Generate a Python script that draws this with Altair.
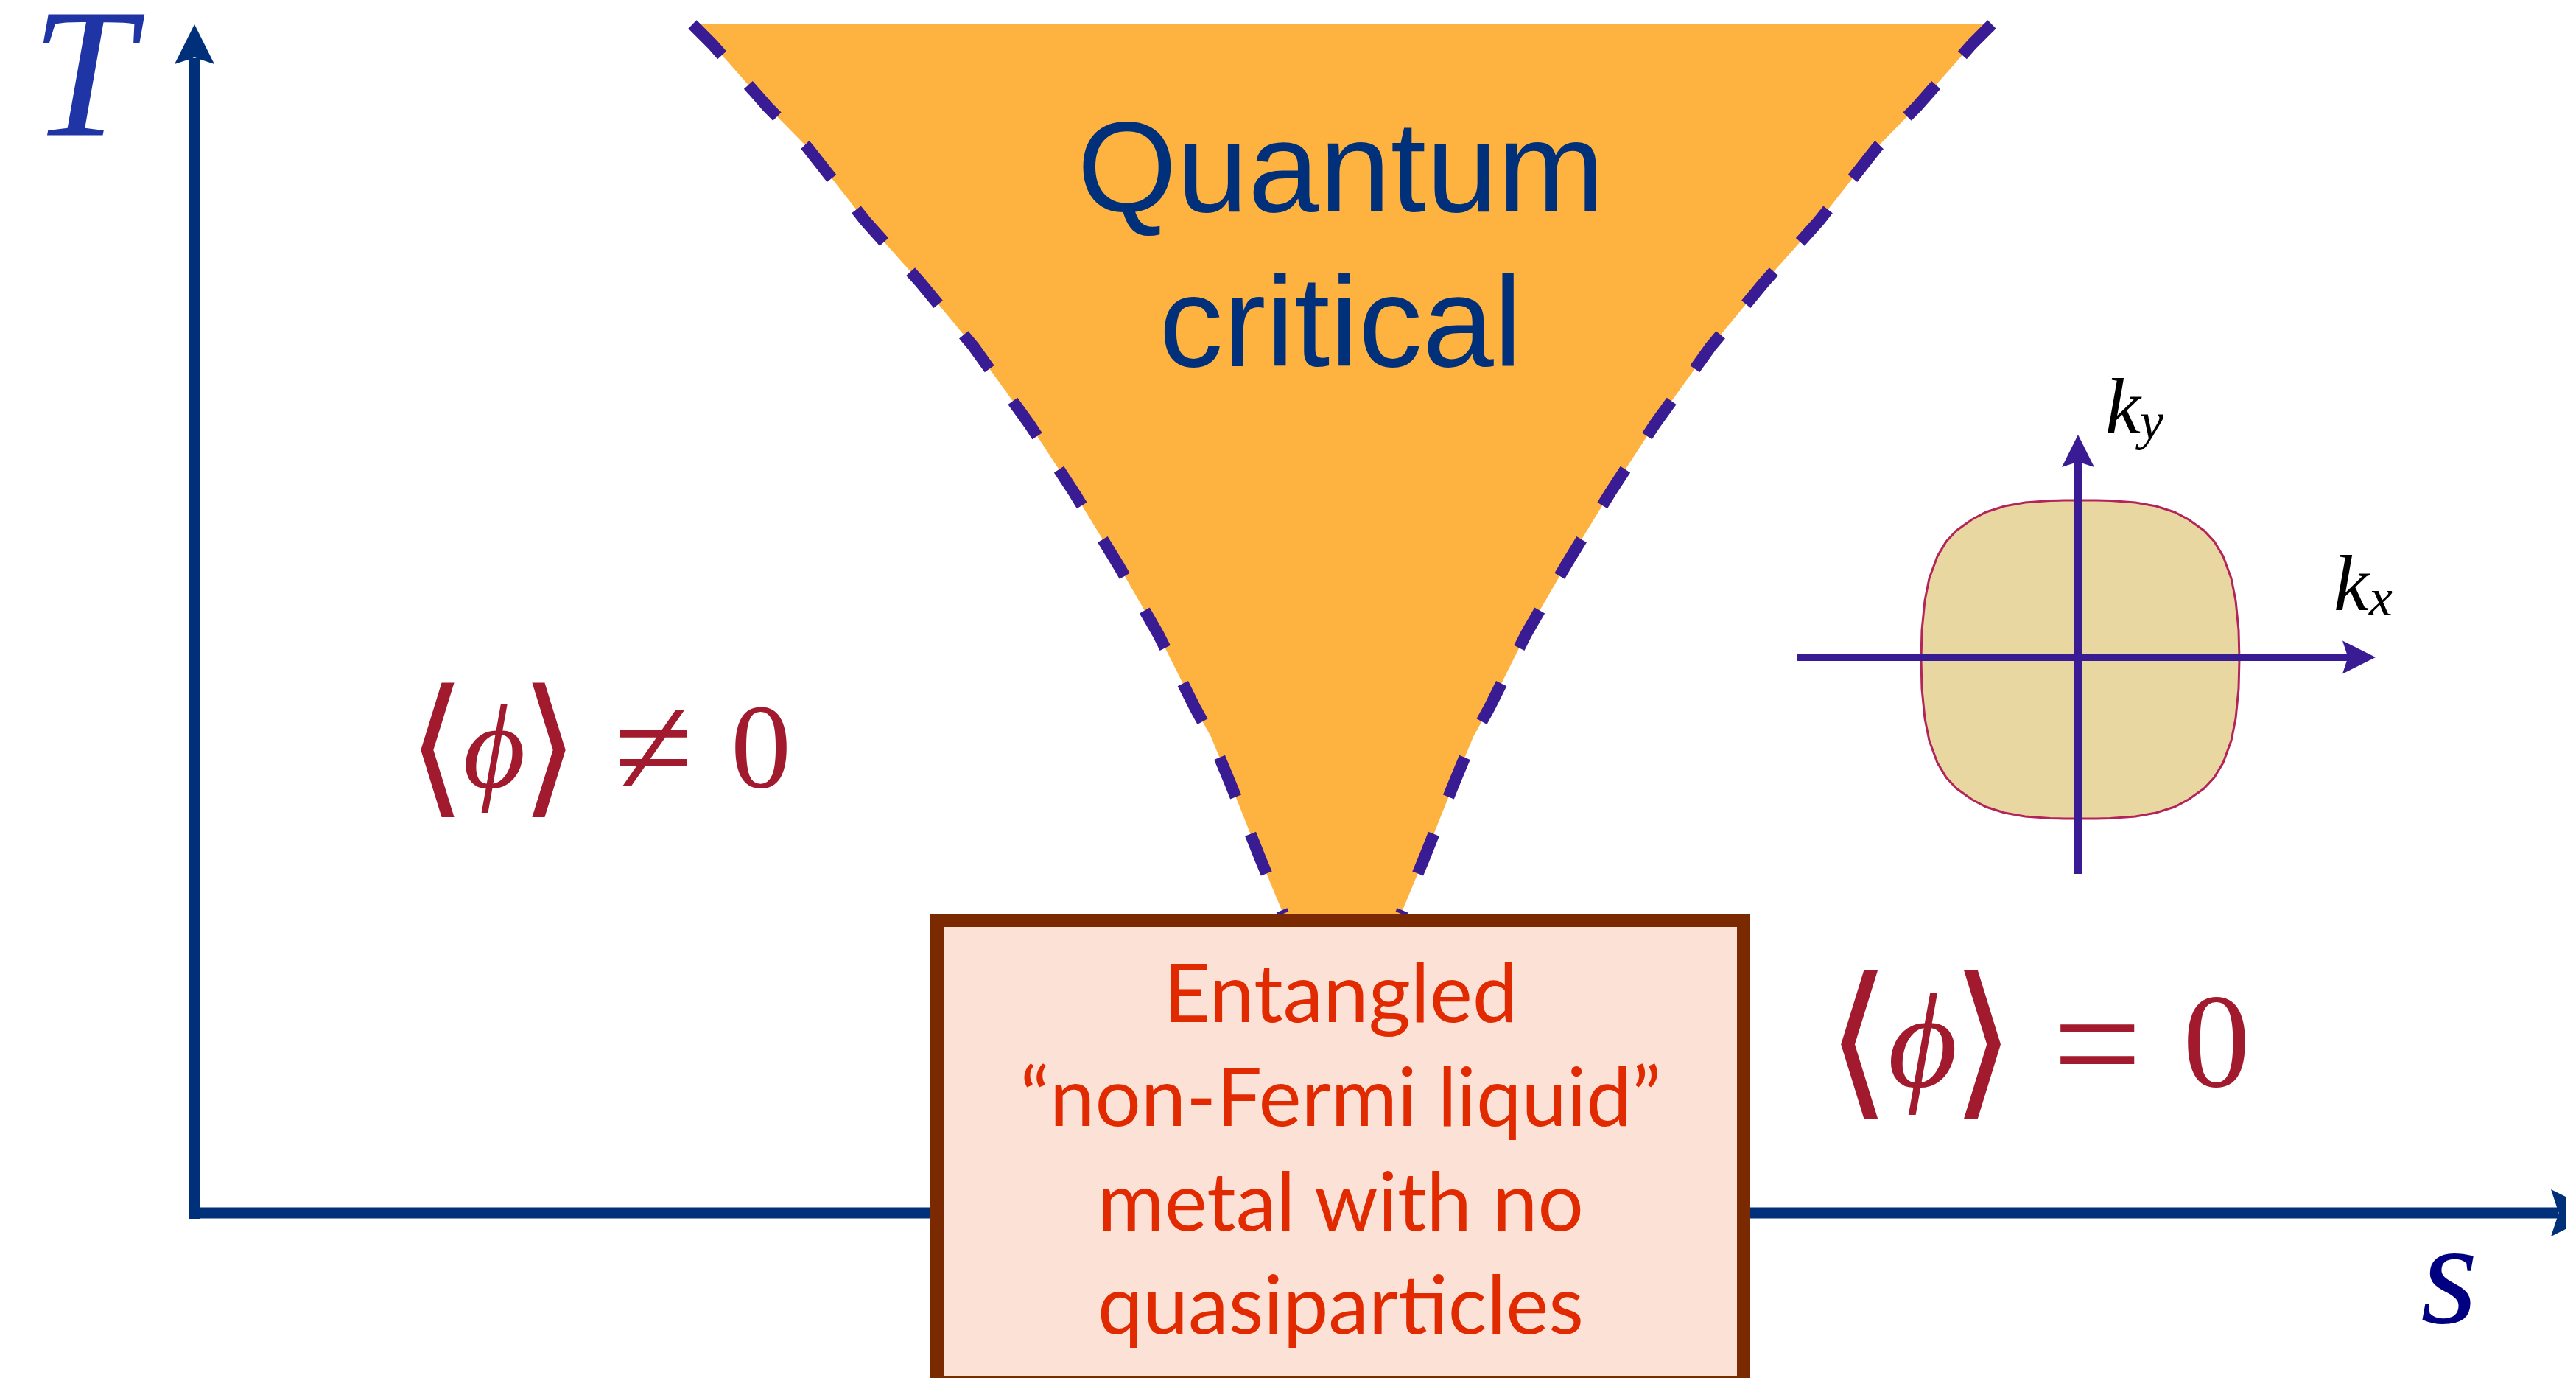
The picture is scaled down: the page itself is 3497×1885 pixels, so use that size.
import altair as alt
import pandas as pd

# ---------------- canvas: data coordinates = reference pixel coordinates ----------------
W, H = 3476, 1862
OX, OY = 8, 8

# ---------------- values ----------------
# quantum-critical fan: vertical position (px from top) and half-width around its centre
funnel_y = [33, 60, 145, 200, 299, 383, 471, 503, 575, 670, 765, 860, 960, 1000, 1065, 1168, 1240]
funnel_hw = [882, 855, 780, 726, 648, 573, 500, 477, 425, 363, 305, 250, 200, 178, 151, 110, 80]
funnel_cx = 1822

# Fermi surface (rounded square) : offset from centre and half-width at that offset
fermi_dy = [0, 40, 80, 110, 140, 160, 175, 190, 200, 208, 213, 215.5, 215.9, 216]
fermi_hw = [216, 215, 211, 205, 194, 182, 168, 147, 128, 103, 75, 41, 22, 0]
fermi_cx, fermi_cy = 2824, 895

# phase-diagram axes: shaft start, arrow tip, head size
axes_T = dict(x=264, y0=1654, tip=33, head=54)
axes_s = dict(y=1646, x0=257, tip=3527, head=64)
axes_kx = dict(y=892, x0=2440, tip=3225, head=45)
axes_ky = dict(x=2821, y0=1186, tip=590, head=44)

box = dict(x=1272, x2=2367, y=1249, y2=1876)
box_lines = ["Entangled", "\u201cnon-Fermi liquid\u201d", "metal with no", "quasiparticles"]
box_line_y = [1387, 1528, 1670, 1810]
box_cx = 1820

qc_lines = ["Quantum", "critical"]
qc_line_y = [287, 497]
qc_cx = 1820

# ---------------- colours ----------------
ORANGE = "#feb341"
DASH = "#391b94"
AXIS = "#00307a"
INSET = "#391b94"
MATH_RED = "#a11a2e"
BOX_FILL = "#fce1d6"
BOX_EDGE = "#7b2900"
BOX_TEXT = "#e12a00"

xs = alt.Scale(domain=[OX, OX + W], nice=False, zero=False)
ys = alt.Scale(domain=[OY, OY + H], nice=False, zero=False, reverse=True)


def X(f):
    return alt.X(f, type="quantitative", scale=xs, axis=None)


def Y(f):
    return alt.Y(f, type="quantitative", scale=ys, axis=None)


# ---------------- fan ----------------
fan = pd.DataFrame({
    "y": funnel_y,
    "xl": [funnel_cx - h for h in funnel_hw],
    "xr": [funnel_cx + h for h in funnel_hw],
})
fan_area = alt.Chart(fan).mark_area(orient="horizontal", color=ORANGE, opacity=1, clip=True).encode(
    y=Y("y"), x=X("xl"), x2="xr")

edges = pd.concat([
    pd.DataFrame({"side": "L", "y": funnel_y, "x": fan["xl"]}),
    pd.DataFrame({"side": "R", "y": funnel_y, "x": fan["xr"]}),
])
fan_edges = alt.Chart(edges).mark_line(color=DASH, strokeWidth=16, strokeDash=[58, 54], clip=True).encode(
    x=X("x"), y=Y("y"), detail="side:N", order="y:Q")

# ---------------- Fermi surface inset ----------------
dy_full = [-d for d in fermi_dy[::-1]] + fermi_dy[1:]
hw_full = fermi_hw[::-1] + fermi_hw[1:]
fermi = pd.DataFrame({
    "y": [fermi_cy + d for d in dy_full],
    "xl": [fermi_cx - h for h in hw_full],
    "xr": [fermi_cx + h for h in hw_full],
})
fermi_layer = alt.Chart(fermi).mark_area(orient="horizontal", fill="#e8d7a0", stroke="#b3255a",
                                         strokeWidth=3, opacity=1).encode(y=Y("y"), x=X("xl"), x2="xr")

# ---------------- axes with arrows ----------------
UP = "M0,-1L1,1L0,0.67L-1,1Z"
RIGHT = "M1,0L-1,-1L-0.67,0L-1,1Z"

rules = pd.DataFrame([
    dict(x=axes_T["x"], x2=axes_T["x"], y=axes_T["y0"], y2=axes_T["tip"] + axes_T["head"] * 0.85, c=AXIS, w=14),
    dict(x=axes_s["x0"], x2=axes_s["tip"] - axes_s["head"] * 0.85, y=axes_s["y"], y2=axes_s["y"], c=AXIS, w=15),
    dict(x=axes_kx["x0"], x2=axes_kx["tip"] - axes_kx["head"] * 0.7, y=axes_kx["y"], y2=axes_kx["y"], c=INSET, w=10),
    dict(x=axes_ky["x"], x2=axes_ky["x"], y=axes_ky["y0"], y2=axes_ky["tip"] + axes_ky["head"] * 0.7, c=INSET, w=10),
])
rule_layer = alt.Chart(rules).mark_rule(clip=True, strokeCap="butt").encode(
    x=X("x"), x2="x2", y=Y("y"), y2="y2",
    color=alt.Color("c:N", scale=None), strokeWidth=alt.StrokeWidth("w:Q", scale=None))

heads_up = pd.DataFrame([
    dict(x=axes_T["x"], y=axes_T["tip"] + axes_T["head"] / 2, s=axes_T["head"] ** 2, c=AXIS),
    dict(x=axes_ky["x"], y=axes_ky["tip"] + axes_ky["head"] / 2, s=axes_ky["head"] ** 2, c=INSET),
])
heads_right = pd.DataFrame([
    dict(x=axes_s["tip"] - axes_s["head"] / 2, y=axes_s["y"], s=axes_s["head"] ** 2, c=AXIS),
    dict(x=axes_kx["tip"] - axes_kx["head"] / 2, y=axes_kx["y"], s=axes_kx["head"] ** 2, c=INSET),
])
head_up = alt.Chart(heads_up).mark_point(shape=UP, filled=True, opacity=1, strokeWidth=0, clip=True).encode(
    x=X("x"), y=Y("y"), size=alt.Size("s:Q", scale=None), color=alt.Color("c:N", scale=None))
head_right = alt.Chart(heads_right).mark_point(shape=RIGHT, filled=True, opacity=1, strokeWidth=0, clip=True).encode(
    x=X("x"), y=Y("y"), size=alt.Size("s:Q", scale=None), color=alt.Color("c:N", scale=None))

# ---------------- box ----------------
box_df = pd.DataFrame([box])
box_layer = alt.Chart(box_df).mark_rect(fill=BOX_FILL, stroke=BOX_EDGE, strokeWidth=18, clip=True).encode(
    x=X("x"), x2="x2", y=Y("y"), y2="y2")

box_txt = pd.DataFrame({"t": box_lines, "x": box_cx, "y": box_line_y})
box_text = alt.Chart(box_txt).mark_text(font="Lato", fontSize=110, color=BOX_TEXT, align="center",
                                        baseline="alphabetic").encode(x=X("x"), y=Y("y"), text="t:N")

qc_txt = pd.DataFrame({"t": qc_lines, "x": qc_cx, "y": qc_line_y})
qc_text = alt.Chart(qc_txt).mark_text(font="Liberation Sans", fontSize=174, color=AXIS, align="center",
                                      baseline="alphabetic").encode(x=X("x"), y=Y("y"), text="t:N")

# ---------------- italic serif labels ----------------
italic = pd.DataFrame([
    dict(t="T", x=112, y=183, s=250, c="#1f35a5"),
    dict(t="s", x=3325, y=1795, s=200, c="#000080"),
    dict(t="\u03d5", x=671, y=1068, s=164, c=MATH_RED),
    dict(t="\u03d5", x=2610, y=1474, s=183, c=MATH_RED),
    dict(t="k", x=2882, y=588, s=108, c="#000000"),
    dict(t="y", x=2921, y=596, s=72, c="#000000"),
    dict(t="k", x=3192, y=828, s=108, c="#000000"),
    dict(t="x", x=3232, y=835, s=72, c="#000000"),
])
italic_layer = alt.Chart(italic).mark_text(font="Liberation Serif", fontStyle="italic", align="center",
                                           baseline="alphabetic").encode(
    x=X("x"), y=Y("y"), text="t:N", size=alt.Size("s:Q", scale=None), color=alt.Color("c:N", scale=None))

upright = pd.DataFrame([
    dict(t="\u2260", x=887, y=1080, s=195),
    dict(t="0", x=1033, y=1068, s=164),
    dict(t="=", x=2847, y=1488, s=215),
    dict(t="0", x=3009, y=1474, s=183),
])
upright_layer = alt.Chart(upright).mark_text(font="Liberation Serif", color=MATH_RED, align="center",
                                             baseline="alphabetic").encode(
    x=X("x"), y=Y("y"), text="t:N", size=alt.Size("s:Q", scale=None))

brackets = pd.DataFrame([
    dict(t="\u27e8", x=593, y=1082, s=205),
    dict(t="\u27e9", x=746, y=1082, s=205),
    dict(t="\u27e8", x=2523, y=1488, s=226),
    dict(t="\u27e9", x=2692, y=1488, s=226),
])
bracket_layer = alt.Chart(brackets).mark_text(font="DejaVu Sans ExtraLight, DejaVu Sans", color=MATH_RED,
                                              align="center", baseline="alphabetic").encode(
    x=X("x"), y=Y("y"), text="t:N", size=alt.Size("s:Q", scale=None))

chart = alt.layer(
    fan_area, fan_edges, fermi_layer, rule_layer, head_up, head_right,
    box_layer, box_text, qc_text,
    italic_layer, upright_layer, bracket_layer,
).properties(
    width=W, height=H, padding=0, background="white",
    autosize=alt.AutoSizeParams(type="none"),
).configure_view(stroke=None, strokeWidth=0)

chart.save("out.html", embed_options={"renderer": "svg", "actions": False})
